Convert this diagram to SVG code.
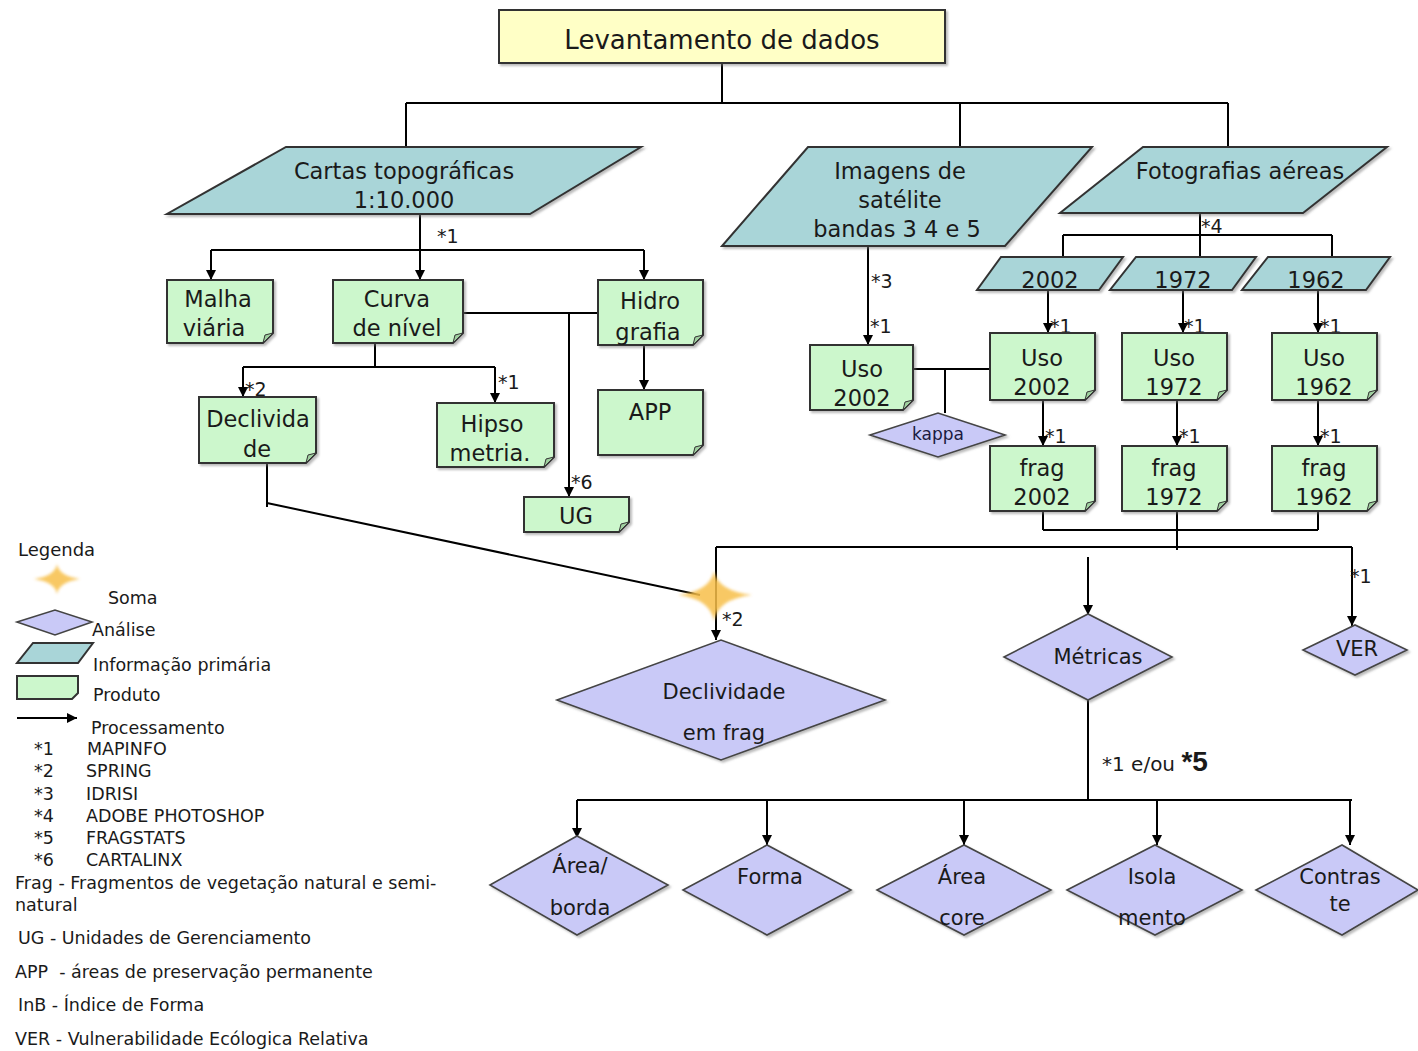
<svg xmlns="http://www.w3.org/2000/svg" width="1418" height="1051" viewBox="0 0 1418 1051">
<style>
text{font-family:"DejaVu Sans","Liberation Sans",sans-serif;fill:#1a1a1a}
.t{font-size:22.5px;text-anchor:middle}
.big{font-size:26px;text-anchor:middle}
.d{font-size:21px;text-anchor:middle}
.k{font-size:17px;text-anchor:middle;fill:#1a1a40}
.lab{font-size:19px}
.lg{font-size:17.5px}
.par{fill:#a9d5d8;stroke:#333;stroke-width:2}
.prod{fill:#ccf7cc;stroke:#333;stroke-width:2}
.fold{fill:#9fcf9f;stroke:#333;stroke-width:1}
.dia{fill:#c9c9f7;stroke:#444;stroke-width:1.6}
.conn line,.conn path{stroke:#000;stroke-width:2;fill:none}
.sh{filter:url(#shadow)}
</style>
<defs>
<marker id="arr" markerWidth="12" markerHeight="12" refX="10" refY="6" orient="auto" markerUnits="userSpaceOnUse"><path d="M0,1 L10,6 L0,11 Z" fill="#000"/></marker>
<filter id="shadow" x="-10%" y="-10%" width="130%" height="130%"><feDropShadow dx="2" dy="2" stdDeviation="1" flood-color="#777" flood-opacity="0.5"/></filter>
<filter id="glow" x="-50%" y="-50%" width="200%" height="200%"><feGaussianBlur stdDeviation="1.6"/></filter>
</defs>
<rect width="1418" height="1051" fill="#fff"/>

<g class="conn">
<line x1="722" y1="63" x2="722" y2="103"/>
<line x1="406" y1="103" x2="1228" y2="103"/>
<line x1="406" y1="103" x2="406" y2="147"/>
<line x1="960" y1="103" x2="960" y2="147"/>
<line x1="1228" y1="103" x2="1228" y2="147"/>
<line x1="420" y1="214" x2="420" y2="280" marker-end="url(#arr)"/>
<line x1="211" y1="250" x2="644" y2="250"/>
<line x1="211" y1="250" x2="211" y2="280" marker-end="url(#arr)"/>
<line x1="644" y1="250" x2="644" y2="280" marker-end="url(#arr)"/>
<line x1="463" y1="313" x2="598" y2="313"/>
<line x1="569" y1="313" x2="569" y2="497" marker-end="url(#arr)"/>
<line x1="375" y1="343" x2="375" y2="367"/>
<line x1="243" y1="367" x2="495" y2="367"/>
<line x1="243" y1="367" x2="243" y2="397" marker-end="url(#arr)"/>
<line x1="495" y1="367" x2="495" y2="403" marker-end="url(#arr)"/>
<line x1="644" y1="345" x2="644" y2="390" marker-end="url(#arr)"/>
<line x1="267" y1="463" x2="267" y2="507"/>
<line x1="267" y1="503" x2="700" y2="595"/>
<line x1="716" y1="547" x2="716" y2="640" marker-end="url(#arr)"/>
<line x1="716" y1="547" x2="1352" y2="547"/>
<line x1="1352" y1="547" x2="1352" y2="626" marker-end="url(#arr)"/>
<line x1="1088" y1="557" x2="1088" y2="615" marker-end="url(#arr)"/>
<line x1="1043" y1="511" x2="1043" y2="530"/>
<line x1="1177" y1="511" x2="1177" y2="550"/>
<line x1="1318" y1="511" x2="1318" y2="530"/>
<line x1="1043" y1="530" x2="1318" y2="530"/>
<line x1="868" y1="246" x2="868" y2="345" marker-end="url(#arr)"/>
<line x1="1200" y1="213" x2="1200" y2="257"/>
<line x1="1063" y1="235" x2="1332" y2="235"/>
<line x1="1063" y1="235" x2="1063" y2="257"/>
<line x1="1332" y1="235" x2="1332" y2="257"/>
<line x1="1048" y1="290" x2="1048" y2="333" marker-end="url(#arr)"/>
<line x1="1183" y1="290" x2="1183" y2="333" marker-end="url(#arr)"/>
<line x1="1318" y1="290" x2="1318" y2="333" marker-end="url(#arr)"/>
<line x1="1043" y1="400" x2="1043" y2="446" marker-end="url(#arr)"/>
<line x1="1177" y1="400" x2="1177" y2="446" marker-end="url(#arr)"/>
<line x1="1318" y1="400" x2="1318" y2="446" marker-end="url(#arr)"/>
<line x1="913" y1="369" x2="990" y2="369"/>
<line x1="945" y1="369" x2="945" y2="413"/>
<line x1="1088" y1="700" x2="1088" y2="800"/>
<line x1="577" y1="800" x2="1352" y2="800"/>
<line x1="577" y1="800" x2="577" y2="838" marker-end="url(#arr)"/>
<line x1="767" y1="800" x2="767" y2="845" marker-end="url(#arr)"/>
<line x1="964" y1="800" x2="964" y2="845" marker-end="url(#arr)"/>
<line x1="1157" y1="800" x2="1157" y2="845" marker-end="url(#arr)"/>
<line x1="1350" y1="800" x2="1350" y2="845" marker-end="url(#arr)"/>
</g>

<g id="labels" class="lab">
<text x="437" y="243">*1</text>
<text x="245" y="396">*2</text>
<text x="498" y="389">*1</text>
<text x="571" y="489">*6</text>
<text x="871" y="288">*3</text>
<text x="870" y="333">*1</text>
<text x="1201" y="233">*4</text>
<text x="1050" y="333">*1</text>
<text x="1184" y="333">*1</text>
<text x="1320" y="333">*1</text>
<text x="1045" y="443">*1</text>
<text x="1179" y="443">*1</text>
<text x="1320" y="443">*1</text>
<text x="722" y="626">*2</text>
<text x="1350" y="583">*1</text>
<text x="1102" y="771" font-size="20">*1 e/ou <tspan font-size="28" font-weight="bold" font-family="Liberation Sans, sans-serif">*5</tspan></text>
</g>

<g id="levantamento"><rect class="sh" x="499" y="10" width="446" height="53" fill="#ffffc6" stroke="#333" stroke-width="2"/><text class="big" x="722" y="49">Levantamento de dados</text></g>

<g id="cartas"><path class="par sh" d="M286,147 H641 L530,214 H167 Z"/><text class="t" x="404" y="179">Cartas topográficas</text><text class="t" x="404" y="208">1:10.000</text></g>
<g id="imagens"><path class="par sh" d="M808,147 H1092 L1005,246 H722 Z"/><text class="t" x="900" y="179">Imagens de</text><text class="t" x="900" y="208">satélite</text><text class="t" x="897" y="237">bandas 3 4 e 5</text></g>
<g id="fotografias"><path class="par sh" d="M1143,147 H1387 L1303,213 H1060 Z"/><text class="t" x="1240" y="179">Fotografias aéreas</text></g>
<g id="p2002"><path class="par sh" d="M1001,257 H1123 L1099,290 H977 Z"/><text class="t" x="1050" y="288">2002</text></g>
<g id="p1972"><path class="par sh" d="M1136,257 H1256 L1232,290 H1110 Z"/><text class="t" x="1183" y="288">1972</text></g>
<g id="p1962"><path class="par sh" d="M1268,257 H1390 L1366,290 H1242 Z"/><text class="t" x="1316" y="288">1962</text></g>

<g id="malha"><path class="prod sh" d="M167,280 H273 V333 L263,343 H167 Z"/><path class="fold" d="M263,343 L265,335 L273,333 Z"/><text class="t" x="218" y="307">Malha</text><text class="t" x="214" y="336">viária</text></g>
<g id="curva"><path class="prod sh" d="M333,280 H463 V333 L453,343 H333 Z"/><path class="fold" d="M453,343 L455,335 L463,333 Z"/><text class="t" x="397" y="307">Curva</text><text class="t" x="397" y="336">de nível</text></g>
<g id="hidro"><path class="prod sh" d="M598,280 H703 V335 L693,345 H598 Z"/><path class="fold" d="M693,345 L695,337 L703,335 Z"/><text class="t" x="650" y="309">Hidro</text><text class="t" x="648" y="340">grafia</text></g>
<g id="declividade"><path class="prod sh" d="M199,397 H316 V453 L306,463 H199 Z"/><path class="fold" d="M306,463 L308,455 L316,453 Z"/><text class="t" x="258" y="427">Declivida</text><text class="t" x="257" y="457">de</text></g>
<g id="hipso"><path class="prod sh" d="M437,403 H554 V457 L544,467 H437 Z"/><path class="fold" d="M544,467 L546,459 L554,457 Z"/><text class="t" x="492" y="432">Hipso</text><text class="t" x="490" y="461">metria.</text></g>
<g id="app"><path class="prod sh" d="M598,390 H703 V445 L693,455 H598 Z"/><path class="fold" d="M693,455 L695,447 L703,445 Z"/><text class="t" x="650" y="420">APP</text></g>
<g id="ug"><path class="prod sh" d="M524,497 H629 V522 L619,532 H524 Z"/><path class="fold" d="M619,532 L621,524 L629,522 Z"/><text class="t" x="576" y="524">UG</text></g>
<g id="uso2002sat"><path class="prod sh" d="M810,345 H913 V400 L903,410 H810 Z"/><path class="fold" d="M903,410 L905,402 L913,400 Z"/><text class="t" x="862" y="377">Uso</text><text class="t" x="862" y="406">2002</text></g>
<g id="uso2002"><path class="prod sh" d="M990,333 H1095 V390 L1085,400 H990 Z"/><path class="fold" d="M1085,400 L1087,392 L1095,390 Z"/><text class="t" x="1042" y="366">Uso</text><text class="t" x="1042" y="395">2002</text></g>
<g id="uso1972"><path class="prod sh" d="M1122,333 H1227 V390 L1217,400 H1122 Z"/><path class="fold" d="M1217,400 L1219,392 L1227,390 Z"/><text class="t" x="1174" y="366">Uso</text><text class="t" x="1174" y="395">1972</text></g>
<g id="uso1962"><path class="prod sh" d="M1272,333 H1377 V390 L1367,400 H1272 Z"/><path class="fold" d="M1367,400 L1369,392 L1377,390 Z"/><text class="t" x="1324" y="366">Uso</text><text class="t" x="1324" y="395">1962</text></g>
<g id="frag2002"><path class="prod sh" d="M990,446 H1095 V501 L1085,511 H990 Z"/><path class="fold" d="M1085,511 L1087,503 L1095,501 Z"/><text class="t" x="1042" y="476">frag</text><text class="t" x="1042" y="505">2002</text></g>
<g id="frag1972"><path class="prod sh" d="M1122,446 H1227 V501 L1217,511 H1122 Z"/><path class="fold" d="M1217,511 L1219,503 L1227,501 Z"/><text class="t" x="1174" y="476">frag</text><text class="t" x="1174" y="505">1972</text></g>
<g id="frag1962"><path class="prod sh" d="M1272,446 H1377 V501 L1367,511 H1272 Z"/><path class="fold" d="M1367,511 L1369,503 L1377,501 Z"/><text class="t" x="1324" y="476">frag</text><text class="t" x="1324" y="505">1962</text></g>

<g id="kappa"><path class="dia sh" d="M870,435 L938,413 L1005,435 L938,457 Z"/><text class="k" x="938" y="440">kappa</text></g>
<g id="soma"><path d="M714,571 Q718,591 752,595 Q718,599 714,621 Q710,599 678,595 Q710,591 714,571 Z" fill="#f7bf4a" opacity="0.85" filter="url(#glow)"/></g>
<g id="declividade-frag"><path class="dia sh" d="M557,700 L721,640 L885,700 L721,760 Z"/><text class="d" x="724" y="699">Declividade</text><text class="d" x="724" y="740">em frag</text></g>
<g id="metricas"><path class="dia sh" d="M1004,657 L1088,614 L1172,657 L1088,700 Z"/><text class="d" x="1098" y="664">Métricas</text></g>
<g id="ver"><path class="dia sh" d="M1303,650 L1355,625 L1407,650 L1355,675 Z"/><text class="d" x="1357" y="656">VER</text></g>
<g id="area-borda"><path class="dia sh" d="M490,885 L577,836 L668,885 L577,935 Z"/><text class="d" x="580" y="873">Área/</text><text class="d" x="580" y="915">borda</text></g>
<g id="forma"><path class="dia sh" d="M683,890 L767,845 L851,890 L767,935 Z"/><text class="d" x="770" y="884">Forma</text></g>
<g id="area-core"><path class="dia sh" d="M877,890 L964,845 L1051,890 L964,935 Z"/><text class="d" x="962" y="884">Área</text><text class="d" x="962" y="925">core</text></g>
<g id="isolamento"><path class="dia sh" d="M1067,890 L1155,845 L1242,890 L1155,935 Z"/><text class="d" x="1152" y="884">Isola</text><text class="d" x="1152" y="925">mento</text></g>
<g id="contraste"><path class="dia sh" d="M1256,890 L1342,845 L1418,890 L1342,935 Z"/><text class="d" x="1340" y="884">Contras</text><text class="d" x="1340" y="911">te</text></g>

<g id="legenda" class="lg">
<text x="18" y="556" font-size="18">Legenda</text>
<path d="M57,564 Q59,576 80,579 Q59,582 57,594 Q55,582 34,579 Q55,576 57,564 Z" fill="#f7bf4a" opacity="0.85" filter="url(#glow)"/>
<text x="108" y="604">Soma</text>
<path class="dia" d="M17,622 L55,610 L92,622 L55,635 Z"/>
<text x="92" y="636">Análise</text>
<path class="par" d="M33,643 H93 L78,663 H17 Z"/>
<text x="93" y="671">Informação primária</text>
<path class="prod" d="M17,676 H78 V693 L72,699 H17 Z"/>
<text x="93" y="701">Produto</text>
<line x1="17" y1="718" x2="77" y2="718" stroke="#000" stroke-width="2" marker-end="url(#arr)"/>
<text x="91" y="734">Processamento</text>
<text x="34" y="755">*1</text><text x="87" y="755">MAPINFO</text>
<text x="34" y="777">*2</text><text x="86" y="777">SPRING</text>
<text x="34" y="800">*3</text><text x="86" y="800">IDRISI</text>
<text x="34" y="822">*4</text><text x="86" y="822">ADOBE PHOTOSHOP</text>
<text x="34" y="844">*5</text><text x="86" y="844">FRAGSTATS</text>
<text x="34" y="866">*6</text><text x="86" y="866">CARTALINX</text>
<text x="15" y="889">Frag - Fragmentos de vegetação natural e semi-</text>
<text x="15" y="911">natural</text>
<text x="18" y="944">UG - Unidades de Gerenciamento</text>
<text x="15" y="978" xml:space="preserve">APP  - áreas de preservação permanente</text>
<text x="18" y="1011">InB - Índice de Forma</text>
<text x="15" y="1045">VER - Vulnerabilidade Ecólogica Relativa</text>
</g>
</svg>
